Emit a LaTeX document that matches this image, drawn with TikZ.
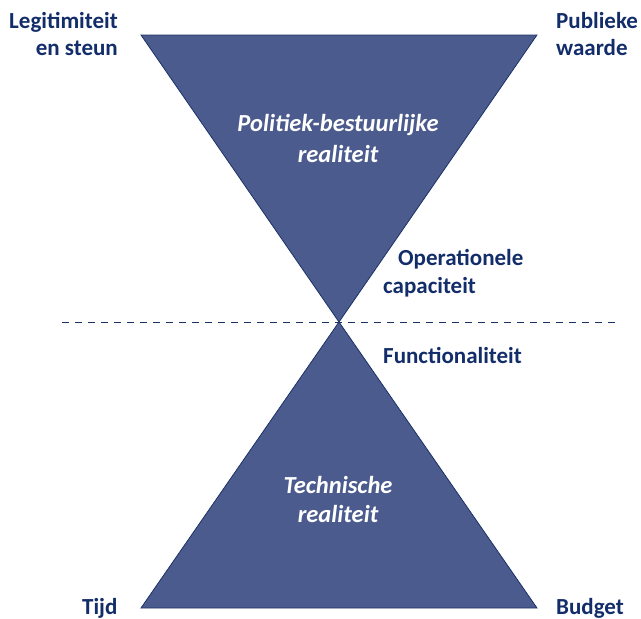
\documentclass[tikz,border=0pt]{standalone}
\usepackage{fontspec}
\setmainfont{Carlito}
\definecolor{fillblue}{RGB}{75,91,141}
\definecolor{edgeblue}{RGB}{28,50,102}
\definecolor{txtblue}{RGB}{18,45,105}
\begin{document}
\begin{tikzpicture}[x=1pt,y=-1pt,
  lbl/.style={font=\fontsize{23}{27}\selectfont\bfseries, text=txtblue, inner sep=0pt, align=left},
  inlbl/.style={font=\fontsize{24.5}{31}\selectfont\bfseries\itshape, text=white, inner sep=0pt, align=center},
  tri/.style={fill=fillblue, draw=edgeblue, line width=0.8pt, line join=miter},
  sep/.style={draw=edgeblue, line width=0.9pt, dash pattern=on 7pt off 6pt}]
\useasboundingbox (0,0) rectangle (641,619);
\coordinate (tl) at (141,35);
\coordinate (tr) at (537,35);
\coordinate (apex) at (339,322);
\coordinate (bl) at (141,608);
\coordinate (br) at (537,608);
\coordinate (dl) at (62,322);
\coordinate (dr) at (616,322);
\draw[sep] (dl) -- (dr);
\path[tri] (tl) -- (tr) -- (apex) -- cycle;
\path[tri] (bl) -- (br) -- (apex) -- cycle;
\node[inlbl, anchor=base] (pol) at (338,162) {Politiek-bestuurlijke\\realiteit};
\node[inlbl, anchor=base, font=\fontsize{24.5}{29}\selectfont\bfseries\itshape] (tech) at (338,522) {Technische\\realiteit};
\node[lbl, anchor=base east, align=right] (leg) at (118,55) {Legitimiteit\\en steun};
\node[lbl, anchor=base west] (pub) at (556,55) {Publieke\\waarde};
\node[lbl, anchor=base west] (ops) at (398,265) {Operationele};
\node[lbl, anchor=base west] (cap) at (383,293) {capaciteit};
\node[lbl, anchor=base west] (fun) at (383,363) {Functionaliteit};
\node[lbl, anchor=base west] (tijd) at (82,614) {Tijd};
\node[lbl, anchor=base west] (bud) at (556,614) {Budget};
\end{tikzpicture}
\end{document}
